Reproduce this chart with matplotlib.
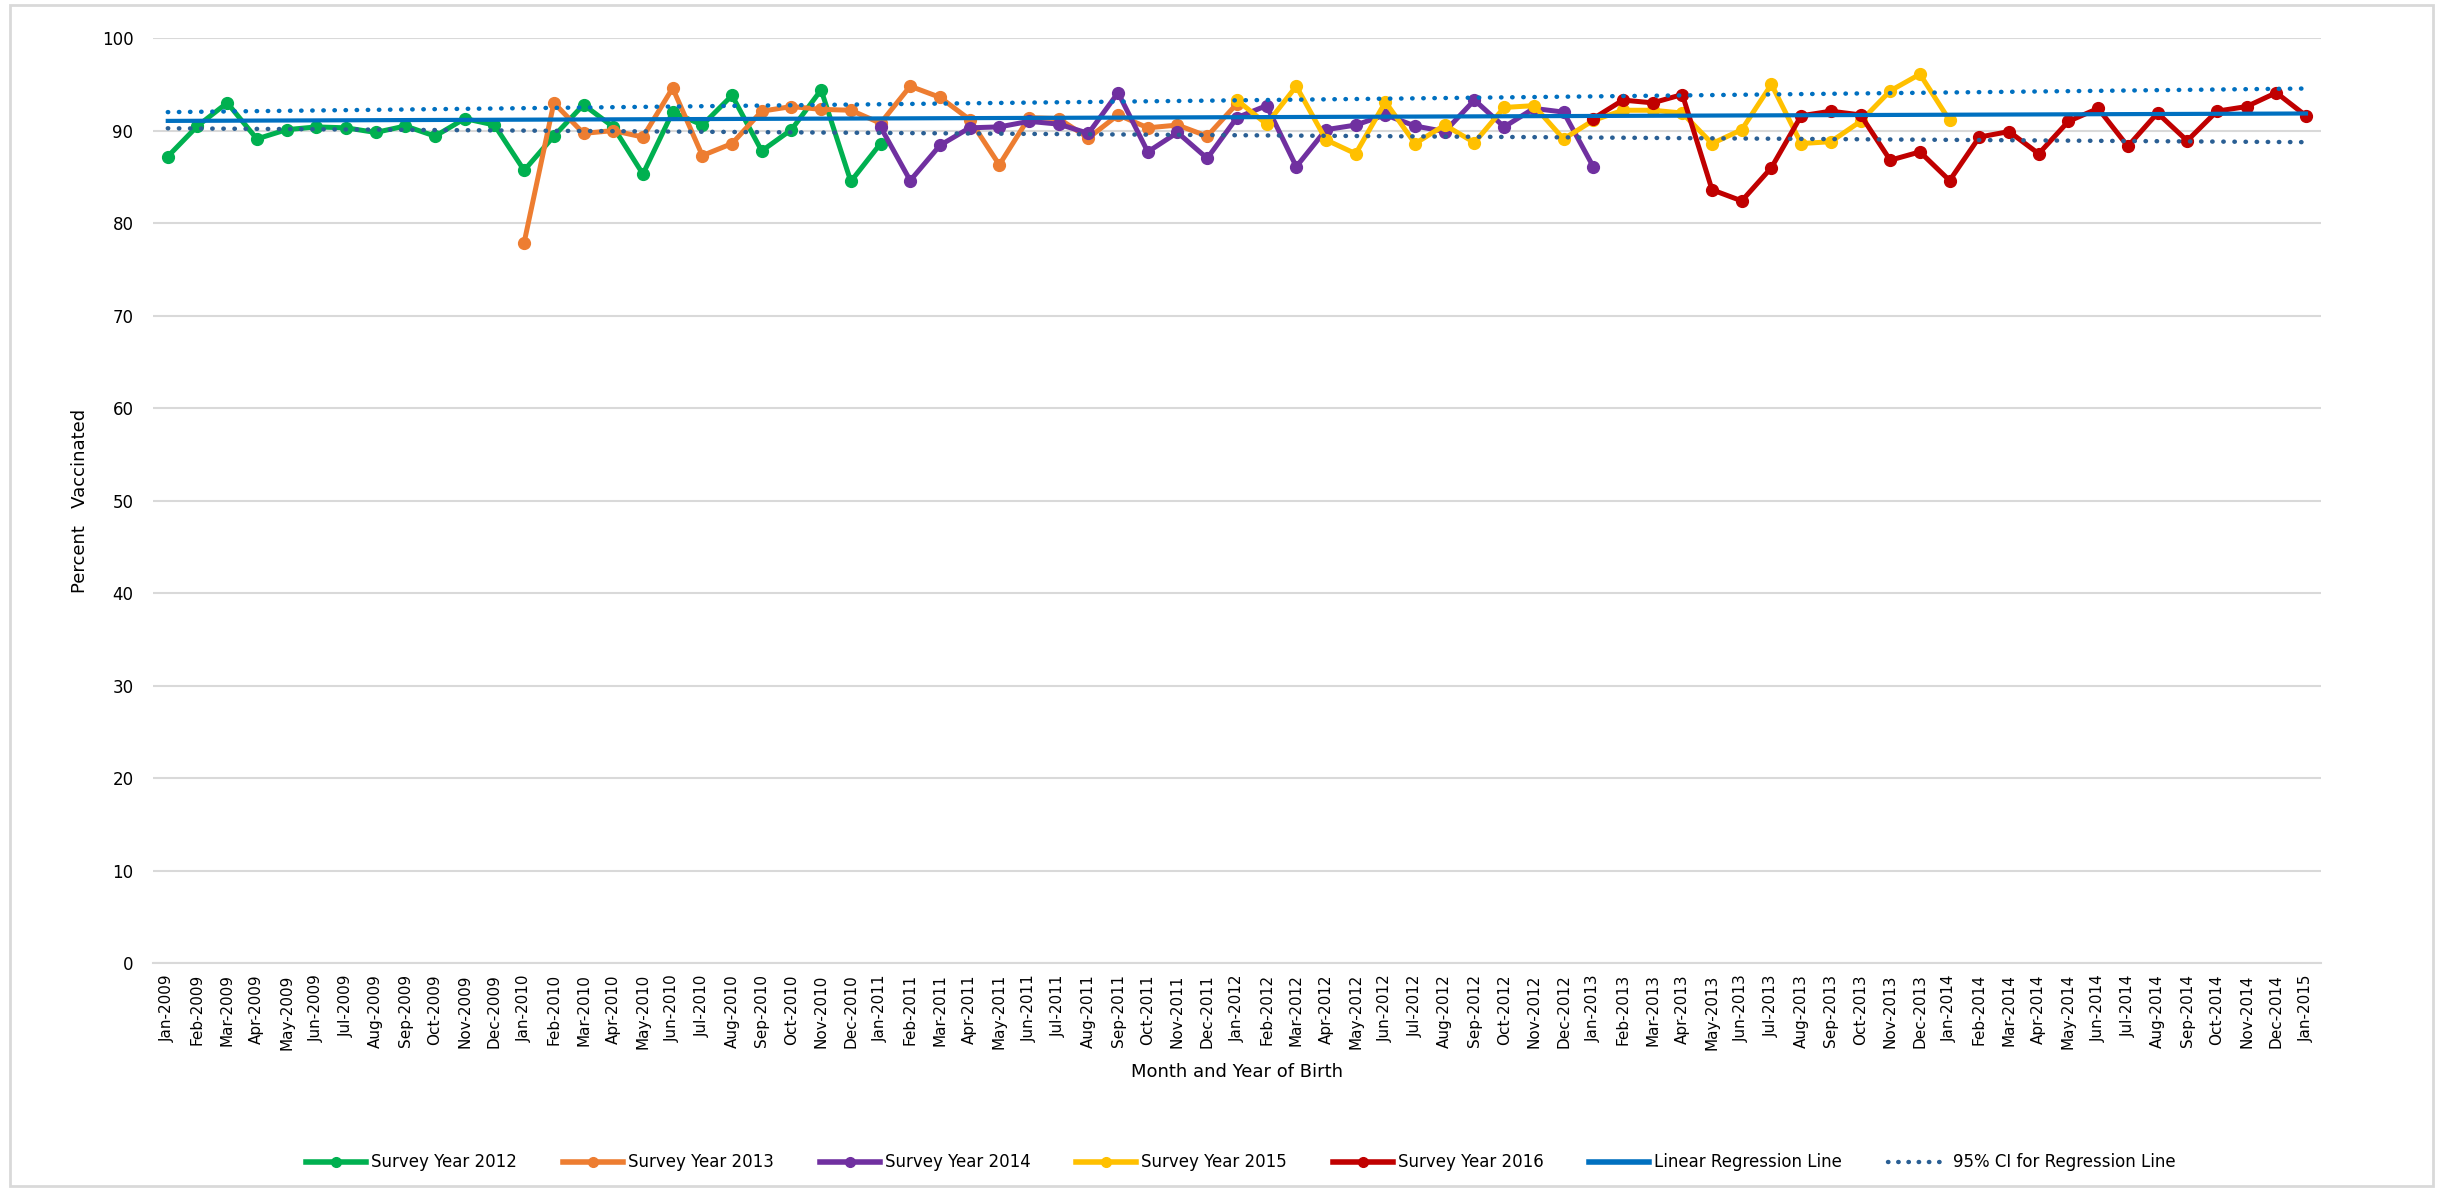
import matplotlib
matplotlib.use("Agg")
import matplotlib.pyplot as plt
from matplotlib.lines import Line2D
import numpy as np

months = ["Jan", "Feb", "Mar", "Apr", "May", "Jun", "Jul", "Aug", "Sep", "Oct", "Nov", "Dec"]
tick_labels = [f"{m}-{y}" for y in range(2009, 2015) for m in months] + ["Jan-2015"]

# Survey year series: (start month index, values)
sy2012_start = 0
sy2012 = [87.2, 90.5, 93.0, 89.1, 90.1, 90.4, 90.3, 89.8, 90.5, 89.4, 91.3, 90.6, 85.7,
          89.4, 92.8, 90.4, 85.3, 92.0, 90.6, 93.8, 87.8, 90.1, 94.4, 84.5, 88.6]
sy2013_start = 12
sy2013 = [77.9, 93.0, 89.7, 90.0, 89.3, 94.6, 87.3, 88.6, 92.1, 92.6, 92.3, 92.2, 90.8,
          94.8, 93.6, 91.2, 86.3, 91.4, 91.3, 89.2, 91.7, 90.3, 90.6, 89.4, 92.9]
sy2014_start = 24
sy2014 = [90.4, 84.6, 88.4, 90.3, 90.4, 91.0, 90.7, 89.7, 94.1, 87.7, 89.8, 87.0, 91.4,
          92.7, 86.1, 90.1, 90.6, 91.7, 90.5, 89.9, 93.3, 90.4, 92.4, 92.0, 86.1]
sy2015_start = 36
sy2015 = [93.3, 90.7, 94.8, 89.0, 87.5, 93.1, 88.6, 90.6, 88.7, 92.5, 92.7, 89.1, 91.1,
          92.2, 92.2, 91.9, 88.6, 90.1, 95.0, 88.6, 88.8, 91.0, 94.3, 96.1, 91.1]
sy2016_start = 48
sy2016 = [91.3, 93.3, 93.0, 93.9, 83.6, 82.4, 86.0, 91.6, 92.1, 91.7, 86.8, 87.7, 84.6,
          89.3, 89.9, 87.5, 91.0, 92.4, 88.3, 91.9, 88.9, 92.1, 92.6, 94.1, 91.6]

# Regression line and CI, values at first and last month
reg_x = [0, 72]
reg_line = [91.05, 91.85]
ci_upper = [92.0, 94.55]
ci_lower = [90.25, 88.75]

series = [
    ("Survey Year 2012", sy2012_start, sy2012, "#00B050"),
    ("Survey Year 2013", sy2013_start, sy2013, "#ED7D31"),
    ("Survey Year 2014", sy2014_start, sy2014, "#7030A0"),
    ("Survey Year 2015", sy2015_start, sy2015, "#FFC000"),
    ("Survey Year 2016", sy2016_start, sy2016, "#C00000"),
]

plt.rcParams["font.family"] = ["DejaVu Sans"]
fig = plt.figure(figsize=(24.43, 11.91), dpi=100)
ax = fig.add_axes([0.0626, 0.1914, 0.8874, 0.7766])

for name, start, vals, col in series:
    x = np.arange(start, start + len(vals))
    ax.plot(x, vals, color=col, lw=3.6, marker="o", markersize=8.5,
            label=name, zorder=3, solid_joinstyle="round")

ax.plot(reg_x, reg_line, color="#0070C0", lw=3.0, zorder=5)
dot = (0, (0.1, 2.4))
ax.plot(reg_x, ci_upper, color="#0070C0", lw=3.2, linestyle=dot,
        dash_capstyle="round", zorder=4)
ax.plot(reg_x, ci_lower, color="#2A5F94", lw=3.2, linestyle=dot,
        dash_capstyle="round", zorder=4)

ax.set_xlim(-0.5, 72.5)
ax.set_ylim(0, 100)
ax.set_yticks(np.arange(0, 101, 10))
ax.set_xticks(np.arange(len(tick_labels)))
ax.set_xticklabels(tick_labels, rotation=90, fontsize=11)
ax.tick_params(axis="y", labelsize=12, length=0, pad=14)
ax.tick_params(axis="x", length=0, pad=8)
ax.grid(axis="y", color="#D9D9D9", lw=1.5)
ax.set_axisbelow(True)
for s in ["top", "right", "left"]:
    ax.spines[s].set_visible(False)
ax.spines["bottom"].set_color("#D9D9D9")
ax.spines["bottom"].set_linewidth(1.5)

ax.set_ylabel("Percent   Vaccinated", fontsize=13, labelpad=9)
ax.set_xlabel("Month and Year of Birth", fontsize=13, labelpad=10)

leg_handles = []
for name, start, vals, col in series:
    leg_handles.append(Line2D([], [], color=col, lw=4, marker="o", markersize=7))
leg_handles.append(Line2D([], [], color="#0070C0", lw=4))
leg_handles.append(Line2D([], [], color="#2A5F94", lw=3.2, linestyle=(0, (0.1, 2.2)),
                          dash_capstyle="round"))
leg_labels = [s[0] for s in series] + ["Linear Regression Line", "95% CI for Regression Line"]
fig.legend(leg_handles, leg_labels, loc="center", bbox_to_anchor=(0.508, 0.024), ncol=7,
           frameon=False, fontsize=12, handlelength=3.6, columnspacing=2.75, handletextpad=0.3)

fig.patches.append(plt.Rectangle((0.004, 0.004), 0.992, 0.992, transform=fig.transFigure,
                                 fill=False, edgecolor="#D9D9D9", lw=2))
fig.savefig("out.png", dpi=100)
